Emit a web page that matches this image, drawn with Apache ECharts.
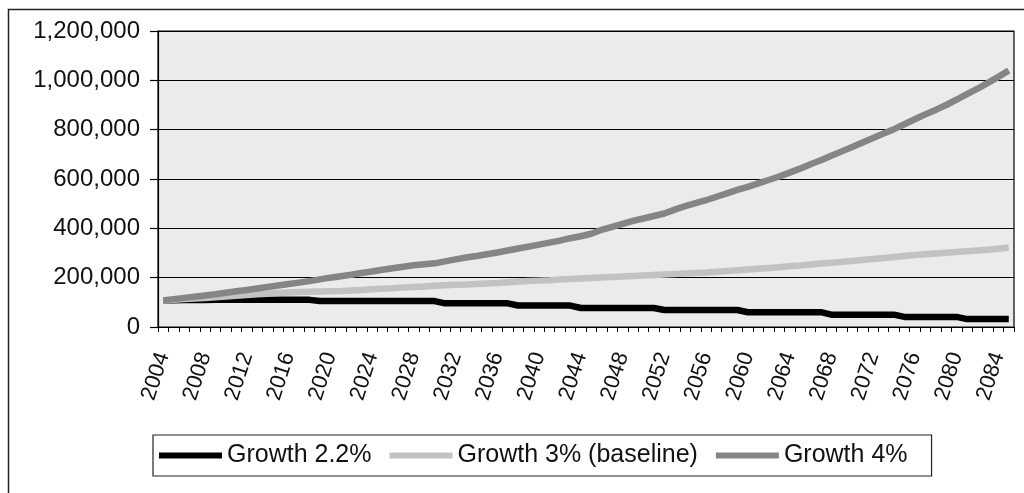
<!DOCTYPE html>
<html>
<head>
<meta charset="utf-8">
<script src="https://cdn.jsdelivr.net/npm/echarts@6/dist/echarts.min.js"></script>
<style>
html,body{margin:0;padding:0;background:#fff;}
#chart{width:1024px;height:493px;}
</style>
</head>
<body>
<div id="chart"></div>
<script>
// Categories: years 2004..2085
var years = ["2004","2005","2006","2007","2008","2009","2010","2011","2012","2013",
"2014","2015","2016","2017","2018","2019","2020","2021","2022","2023",
"2024","2025","2026","2027","2028","2029","2030","2031","2032","2033",
"2034","2035","2036","2037","2038","2039","2040","2041","2042","2043",
"2044","2045","2046","2047","2048","2049","2050","2051","2052","2053",
"2054","2055","2056","2057","2058","2059","2060","2061","2062","2063",
"2064","2065","2066","2067","2068","2069","2070","2071","2072","2073",
"2074","2075","2076","2077","2078","2079","2080","2081","2082","2083",
"2084","2085"];

var seriesNames = ["Growth 2.2%", "Growth 3% (baseline)", "Growth 4%"];

// Growth 2.2% (thousands)
var growth22 = [108,108,109,109,109,110,110,110,110,110,
110,110,110,110,110,105,105,105,105,105,
105,105,105,105,105,105,105,96,96,96,
96,96,96,96,87,87,87,87,87,87,
77,77,77,77,77,77,77,77,69,69,
69,69,69,69,69,69,60,60,60,60,
60,60,60,60,50,50,50,50,50,50,
50,41,41,41,41,41,41,32,32,32,
32,32];

// Growth 3% (baseline)
var growth3 = [108,110,113,116,118,121,124,127,130,133,
135,138,140,142,143,144,145,146,148,150,
153,155,157,160,162,164,167,169,171,172,
174,176,178,181,184,186,188,190,193,195,
197,199,201,203,205,207,209,211,213,215,
217,219,221,224,227,230,233,236,239,242,
246,249,253,257,260,264,268,272,276,280,
284,288,292,295,298,301,304,307,310,313,
317,322];

// Growth 4%
var growth4 = [108,113,118,123,128,133,139,145,150,156,
162,168,174,180,186,193,200,206,212,219,
225,232,238,244,250,254,258,266,274,282,
288,295,302,310,318,326,334,342,350,360,
368,378,394,406,418,430,440,450,460,476,
490,502,514,528,542,556,568,582,596,610,
626,642,660,676,694,712,730,748,766,784,
802,822,842,862,880,900,922,944,966,990,
1014,1040];

var yTicks = [0, 200000, 400000, 600000, 800000, 1000000, 1200000];

function toUnits(arr){ return arr.map(function(v){ return v*1000; }); }
function fmt(v){ return String(v).replace(/\B(?=(\d{3})+(?!\d))/g, ","); }

var FONT = "Liberation Sans";
var chart = echarts.init(document.getElementById('chart'));
chart.setOption({
  animation: false,
  backgroundColor: '#ffffff',
  graphic: [{
    type: 'rect', silent: true, z: -1,
    shape: {x: 8.5, y: 9.5, width: 1100, height: 600},
    style: {fill: 'none', stroke: '#222', lineWidth: 1.5}
  }],
  grid: {
    left: 158, right: 10, top: 31, bottom: 166,
    show: true, backgroundColor: '#ebebeb', borderColor: '#000', borderWidth: 1.2
  },
  legend: {
    data: seriesNames,
    left: 153, top: 435,
    orient: 'horizontal',
    icon: 'rect',
    itemWidth: 63, itemHeight: 6,
    itemGap: 18,
    padding: [8, 24, 8, 6],
    borderColor: '#222', borderWidth: 1.2,
    backgroundColor: '#fff',
    textStyle: {fontFamily: FONT, fontSize: 25, color: '#111'}
  },
  xAxis: {
    type: 'category',
    data: years,
    boundaryGap: true,
    axisLine: {lineStyle: {color: '#000', width: 1.2}},
    axisTick: {show: true, interval: 0, length: 5, lineStyle: {color: '#000'}},
    axisLabel: {interval: 3, rotate: 72, margin: 26, fontFamily: FONT, fontSize: 22, color: '#111'},
    splitLine: {show: false}
  },
  yAxis: {
    type: 'value',
    min: 0, max: 1200000, interval: 200000,
    axisLine: {show: true, lineStyle: {color: '#000', width: 1.2}},
    axisTick: {show: true, length: 8, lineStyle: {color: '#000', width: 1.2}},
    axisLabel: {margin: 18, fontFamily: FONT, fontSize: 24, color: '#111',
      formatter: function(v){ return fmt(v); }},
    splitLine: {show: true, lineStyle: {color: '#000', width: 1.2}}
  },
  series: [
    {name: seriesNames[0], type: 'line', data: toUnits(growth22), symbol: 'none',
     lineStyle: {color: '#000000', width: 6.5}, itemStyle: {color: '#000000'}},
    {name: seriesNames[1], type: 'line', data: toUnits(growth3), symbol: 'none',
     lineStyle: {color: '#c2c2c2', width: 6.5}, itemStyle: {color: '#c2c2c2'}},
    {name: seriesNames[2], type: 'line', data: toUnits(growth4), symbol: 'none',
     lineStyle: {color: '#858585', width: 6.5}, itemStyle: {color: '#858585'}}
  ]
});
</script>
</body>
</html>
